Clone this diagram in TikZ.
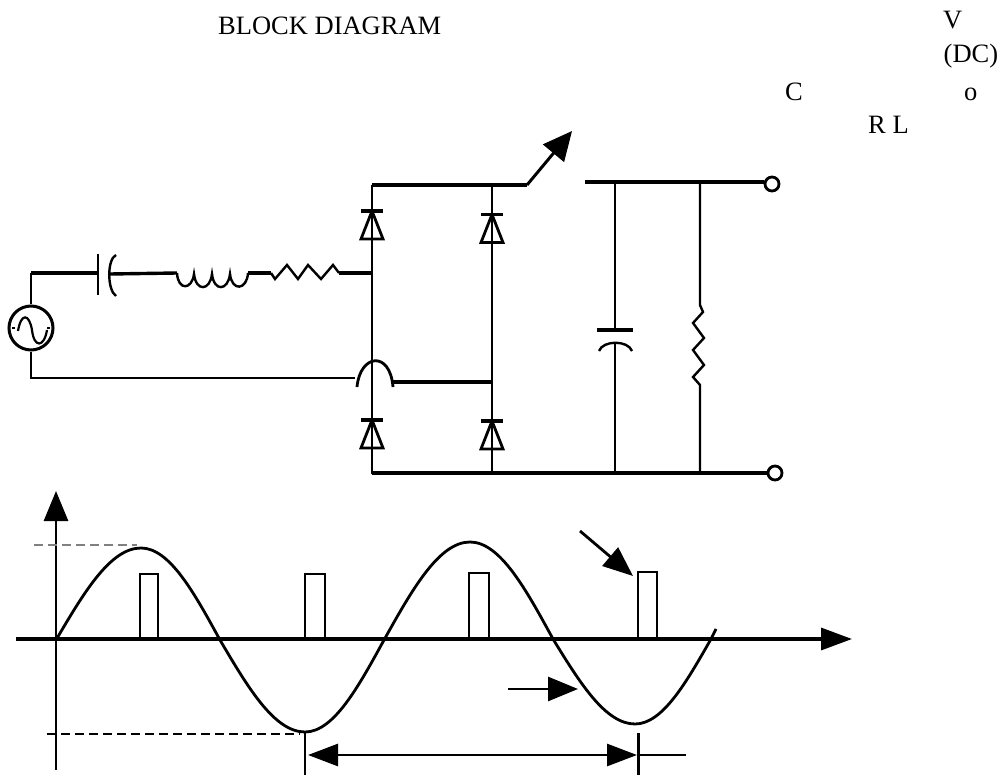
\documentclass[tikz,border=0pt]{standalone}
\usepackage{fontspec}
\setmainfont{Liberation Serif}
\usepackage{tikz}
\usetikzlibrary{arrows.meta}
\usetikzlibrary{positioning}

\tikzset{
  wire/.style={line width=2.4pt},
  rail/.style={line width=3.4pt},
  trace/.style={line width=2.8pt},
  label node/.style={font=\fontsize{26.5}{27}\selectfont,inner sep=0pt,anchor=base west},
  big arrow/.style={-{Triangle[length=30pt,width=24pt]},line width=2.8pt},
  term node/.style={circle,draw,line width=2.8pt,minimum size=14pt,inner sep=0pt},
}

% diode: bar on top, triangle below
\newcommand{\diode}[3]{
  \coordinate (#1) at (#2,#3);
  \draw[line width=3.2pt] ([xshift=-11pt]#1) -- ([xshift=11pt]#1);
  \draw[line width=2.8pt,line join=miter] (#1) -- ([xshift=-11pt,yshift=-28pt]#1) -- ([xshift=11pt,yshift=-28pt]#1) -- cycle;
}

\begin{document}
\begin{tikzpicture}[x=1pt,y=-1pt]
  \useasboundingbox (0,0) rectangle (998,775);

  % labels
  \node[label node] (title) at (218,34.5) {BLOCK DIAGRAM};
  \node[label node] (vlabel) at (943,28.5) {V};
  \node[label node] (dclabel) at (943.5,63) {(DC)};
  \node[label node] (clabel) at (785,100.5) {C};
  \node[label node] (olabel) at (964,100.5) {o};
  \node[label node] (rllabel) at (868,133.5) {R L};

  % source branch
  \node[circle,draw,line width=3pt,minimum size=44pt,inner sep=0pt] (src) at (31,328) {};
  \coordinate (srctop) at (31,273);
  \coordinate (srcbot) at (31,378);
  \coordinate (capa) at (98,273);
  \coordinate (capb) at (110,274);
  \coordinate (inda) at (177,273);
  \coordinate (indb) at (248,273);
  \coordinate (resa) at (271,273);
  \coordinate (resb) at (339,273);
  \coordinate (ja) at (372,273);
  \coordinate (hopa) at (355,378);
  \draw[line width=2pt] (12,328) -- (15,328);
  \draw[line width=2pt] (47,328) -- (50,328);
  \draw[line width=2.2pt] (18,331) .. controls (21,313) and (29,313) .. (32,330) .. controls (34,348) and (44,348) .. (47,330);
  \draw[wire] (src.north) -- (srctop);
  \draw[rail] (srctop) -- (capa);
  \draw[wire] (98,254) -- (98,295);
  \draw[wire] (116,255) .. controls (107,259) and (107,290) .. (116,296);
  \draw[rail] (capb) -- (inda);
  \draw[wire] (inda) .. controls (178,291) and (192,290) .. (194,274)
    .. controls (196,292) and (210,291) .. (212,274)
    .. controls (214,292) and (228,291) .. (230,274)
    .. controls (232,292) and (247,290) .. (indb);
  \draw[rail] (indb) -- (resa);
  \draw[wire] (resa) -- (275,279) -- (287,265) -- (298,279) -- (308,265) -- (321,279) -- (333,265) -- (resb);
  \draw[rail] (resb) -- (ja);
  \draw[line width=2.8pt] (src.south) -- (srcbot) -- (hopa);

  % bridge
  \coordinate (tl) at (372,185);
  \coordinate (tr) at (492,185);
  \coordinate (bl) at (372,474);
  \coordinate (br) at (492,474);
  \coordinate (hopb) at (393,382);
  \coordinate (jb) at (492,382);
  \coordinate (swa) at (527,185);
  \coordinate (swb) at (572,131);
  \draw[wire] (tl) -- (bl);
  \draw[wire] (tr) -- (br);
  \diode{da}{372}{211}
  \diode{db}{492}{214.5}
  \diode{dc}{372}{420}
  \diode{dd}{492}{421}
  \draw[line width=2.8pt] (357,387) .. controls (360,354) and (390,350) .. (393,387);
  \draw[rail] (hopb) -- (jb);
  \draw[rail] (tl) -- (swa);
  \draw[line width=3pt,-{Triangle[length=29pt,width=27pt]}] (swa) -- (swb);

  % output side
  \coordinate (oa) at (585,182);
  \coordinate (ca) at (615,182);
  \coordinate (cb) at (615,473);
  \coordinate (ra) at (700,182);
  \coordinate (rb) at (700,473);
  \node[term node] (outa) at (772,184) {};
  \node[term node] (outb) at (775,473) {};
  \draw[rail] (oa) -- (outa.west |- oa);
  \draw[rail] (bl |- outb) -- (outb.west);
  \draw[wire] (ca) -- (615,330);
  \draw[rail] (597,330) -- (633,330);
  \draw[wire] (599,351) .. controls (603,340) and (628,340) .. (632,351);
  \draw[wire] (615,344) -- (cb);
  \draw[wire] (ra) -- (700,305) -- (703,312) -- (693,323) -- (704,338) -- (693,350) -- (704,365) -- (693,377) -- (700,385) -- (rb);

  % axes
  \coordinate (ya) at (56,770);
  \coordinate (yb) at (56,491);
  \coordinate (xa) at (16,639);
  \coordinate (xb) at (852,639);
  \draw[big arrow] (ya) -- (yb);
  \draw[-{Triangle[length=31pt,width=22pt]},line width=3.4pt] (xa) -- (xb);
  \draw[gray,line width=2pt,dash pattern=on 9pt off 5pt] (34,545) -- (137,545);
  \draw[line width=2.4pt,dash pattern=on 9pt off 5pt] (47,734) -- (300,734);

  % wave
  \draw[trace] (56,640) sin (141,548) cos (220,640) sin (305,732) cos (384,640)
    sin (470,542) cos (553,639) sin (635,724) cos (711,639) -- (716,629);

  % pulses
  \foreach \a/\b/\t in {140/158/574,305/325/574,469/489/573,638/657/572}{
    \draw[wire] (\a,639) -- (\a,\t) -- (\b,\t) -- (\b,639);
  }

  % pointers
  \coordinate (pa) at (580,531);
  \coordinate (pb) at (633,576);
  \coordinate (qa) at (508,689);
  \coordinate (qb) at (578,689);
  \coordinate (dima) at (308,755);
  \coordinate (dimb) at (637,755);
  \coordinate (dimc) at (686,755);
  \draw[big arrow] (pa) -- (pb);
  \draw[big arrow] (qa) -- (qb);
  \draw[{Triangle[length=30pt,width=22pt]}-{Triangle[length=30pt,width=22pt]},line width=2.8pt] (dima) -- (dimb);
  \draw[line width=2.8pt] (dimb) -- (dimc);
  \draw[wire] (305,732) -- (305,775);
  \draw[wire] (638.5,733) -- (638.5,775);
\end{tikzpicture}
\end{document}
